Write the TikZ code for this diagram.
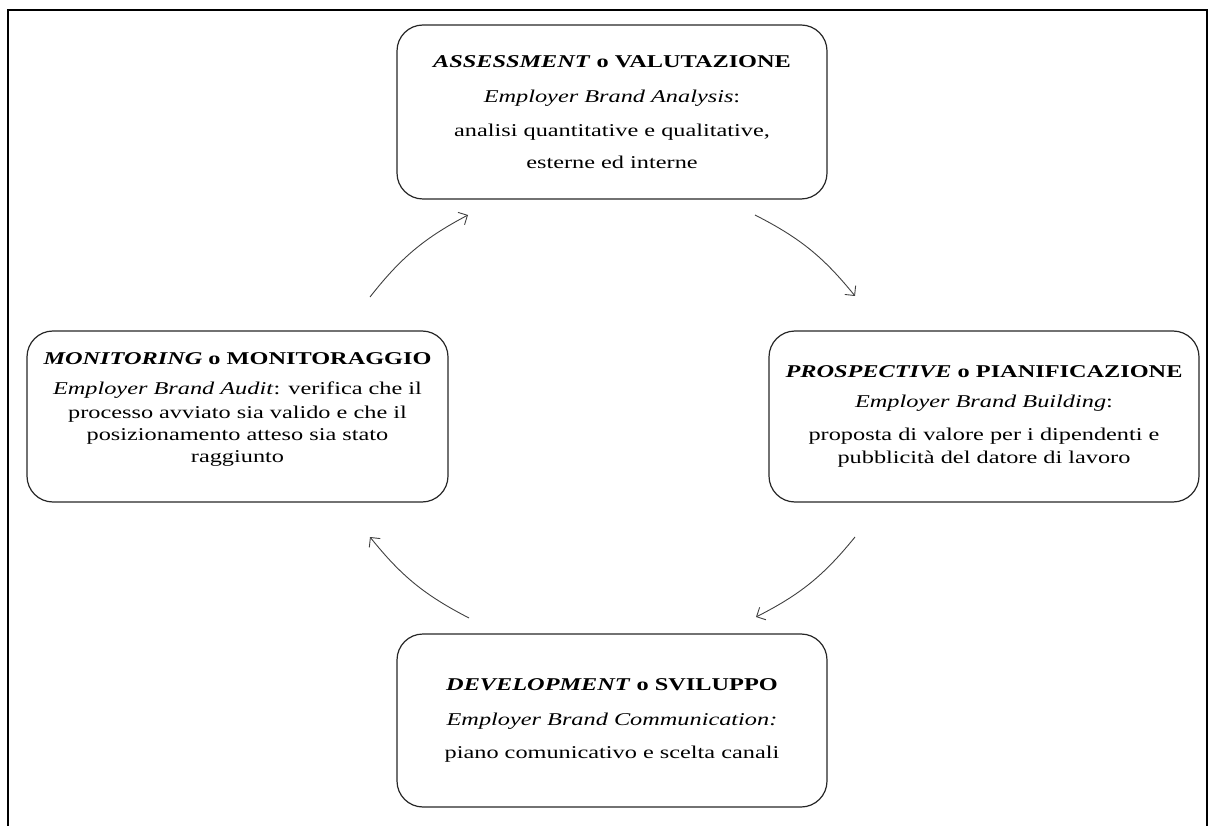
\documentclass[tikz,border=0pt]{standalone}
\usepackage{fontspec}
\setmainfont{Liberation Serif}[FakeStretch=1.35]
\usetikzlibrary{arrows.meta}

\begin{document}
\begin{tikzpicture}[x=1pt,y=-1pt,
  stage/.style={draw=black!85, line width=1.2pt, rounded corners=26pt,
    align=center, inner sep=0pt, font=\fontsize{18}{23}\selectfont},
  flow/.style={draw=black!75, line width=0.9pt,
    -{Straight Barb[length=7pt,width=14pt]}, bend left=12}]

\useasboundingbox (0,0) rectangle (1216,826);

% open frame round the figure
\draw[line width=2pt] (8,826) -- (8,10) -- (1207,10) -- (1207,826);

% the four phases
\node[stage, minimum width=430pt, minimum height=174pt] (assess) at (612,112)
  {\textbf{\textit{ASSESSMENT} o VALUTAZIONE}\\[12pt]
   \textit{Employer Brand Analysis}:\\[11pt]
   analisi quantitative e qualitative,\\[9pt]
   esterne ed interne};

\node[stage, minimum width=430pt, minimum height=171pt] (plan) at (984,416.5)
  {\textbf{\textit{PROSPECTIVE} o PIANIFICAZIONE}\\[7pt]
   \textit{Employer Brand Building}:\\[10pt]
   proposta di valore per i dipendenti e\\
   pubblicità del datore di lavoro};

\node[stage, minimum width=430pt, minimum height=173pt] (develop) at (612,720.5)
  {\textbf{\textit{DEVELOPMENT} o SVILUPPO}\\[12pt]
   \textit{Employer Brand Communication:}\\[10pt]
   piano comunicativo e scelta canali};

% trailing empty line lifts this text block a little inside its box
\node[stage, minimum width=421pt, minimum height=171pt] (monitor) at (237.5,416.5)
  {\textbf{\textit{MONITORING} o MONITORAGGIO}\\[7pt]
   \textit{Employer Brand Audit}: verifica che il\\[1pt]
   processo avviato sia valido e che il\\[-1pt]
   posizionamento atteso sia stato\\[-1pt]
   raggiunto\\[-6pt]\mbox{}};

% arrow ends between the phases
\coordinate (m-out) at (370,297);
\coordinate (a-in)  at (468,215);
\coordinate (a-out) at (755,215);
\coordinate (p-in)  at (855,296);
\coordinate (p-out) at (855,537);
\coordinate (d-in)  at (756,617);
\coordinate (d-out) at (469,618);
\coordinate (m-in)  at (370,537);

% the cycle
\draw[flow] (m-out) to (a-in);
\draw[flow] (a-out) to (p-in);
\draw[flow] (p-out) to (d-in);
\draw[flow] (d-out) to (m-in);
\end{tikzpicture}
\end{document}
